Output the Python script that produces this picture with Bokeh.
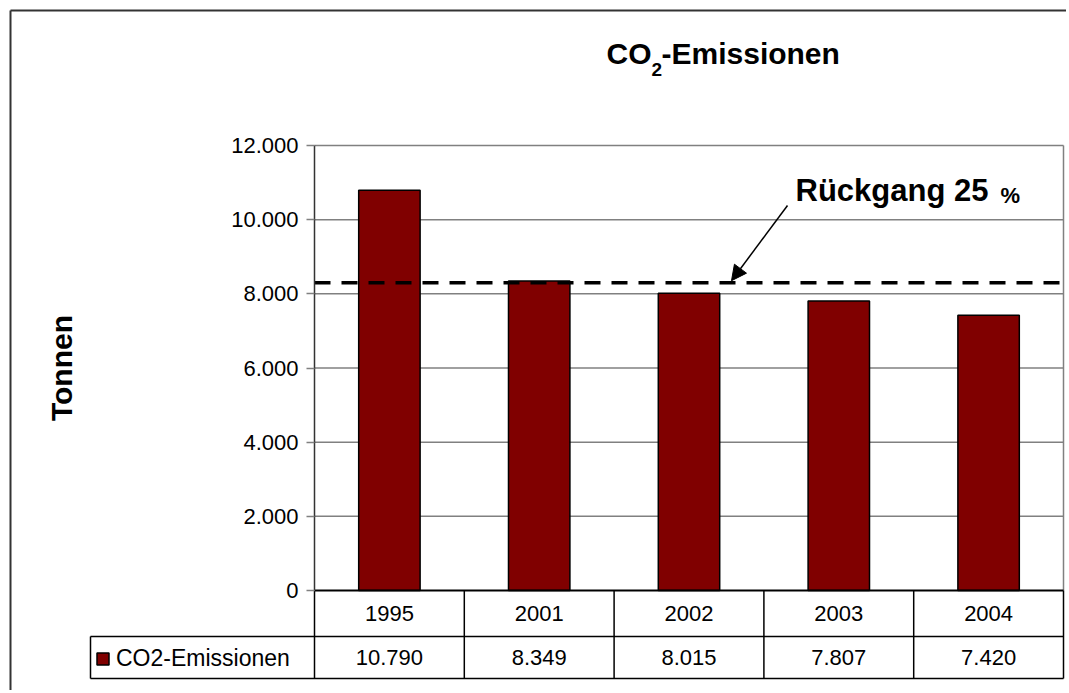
from bokeh.plotting import figure
from bokeh.models import (Range1d, FixedTicker, Label, Arrow, NormalHead, Grid,
                          Legend, LegendItem, ColumnDataSource, LinearAxis)
from bokeh.core.properties import value
from bokeh.embed import file_html
from bokeh.resources import INLINE

# ---------------- data ----------------
years = ["1995", "2001", "2002", "2003", "2004"]
emissions = [10790, 8349, 8015, 7807, 7420]
target_level = 8300          # dashed reference line ("Rückgang 25 %")
y_ticks = [0, 2000, 4000, 6000, 8000, 10000, 12000]
y_tick_labels = ["0", "2.000", "4.000", "6.000", "8.000", "10.000", "12.000"]
series_name = "CO2-Emissionen"
title_parts = ["CO", "2", "-Emissionen"]      # CO₂-Emissionen with subscript 2
y_label = "Tonnen"
annot_text = "Rückgang 25"
annot_pct = "%"
value_labels = [f"{v:,}".replace(",", ".") for v in emissions]

# ---------------- layout (pixels) ----------------
FONT = "Liberation Sans"
W, H = 1066, 690
PLOT_L, PLOT_R, PLOT_T, ZERO_Y = 314, 1063, 145, 590   # plot area in px
ROW1, ROW2 = 46, 42                                    # table row heights in px
CELL_L = 90                                            # legend cell left edge
n = len(years)
Y_MAX = y_ticks[-1]
XU = n / (PLOT_R - PLOT_L)          # x data units per px
U = Y_MAX / (ZERO_Y - PLOT_T)       # y data units per px


def px_x(sx):
    return (sx - PLOT_L) * XU


def px_y(sy):
    return (ZERO_Y - sy) * U


p = figure(width=W, height=H, output_backend="svg", toolbar_location=None,
           x_range=Range1d(px_x(0), px_x(W)), y_range=Range1d(px_y(H), px_y(0)),
           x_axis_location=None, y_axis_location=None, min_border=0)
p.center = [c for c in p.center if not isinstance(c, Grid)]
p.outline_line_color = None
p.background_fill_color = "white"
p.border_fill_color = "white"

# y axis drawn at x = 0 (the plot area's left edge)
ax = LinearAxis(fixed_location=0, bounds=(0, Y_MAX))
ax.ticker = FixedTicker(ticks=y_ticks)
ax.major_label_overrides = dict(zip(y_ticks, y_tick_labels))
ax.minor_tick_line_color = None
ax.major_tick_in = 0
ax.major_tick_out = 8
ax.major_tick_line_color = "#808080"
ax.major_tick_line_width = 1.5
ax.axis_line_color = "#333333"
ax.axis_line_width = 1.5
ax.major_label_text_font = FONT
ax.major_label_text_font_size = "22px"
ax.major_label_text_color = "black"
ax.major_label_standoff = 8
ax.axis_label = y_label
ax.axis_label_text_font = FONT
ax.axis_label_text_font_size = "30px"
ax.axis_label_text_font_style = "bold"
ax.axis_label_text_color = "black"
ax.axis_label_standoff = 150
p.add_layout(ax, "left")

# horizontal gridlines and plot-area right border
grid_levels = y_ticks[1:]
p.segment(x0=[0] * len(grid_levels), x1=[n] * len(grid_levels), y0=grid_levels,
          y1=grid_levels, line_color="#808080", line_width=1.5)
p.segment(x0=[n], x1=[n], y0=[0], y1=[Y_MAX], line_color="#808080", line_width=1.5)

src = ColumnDataSource(dict(x=[i + 0.5 for i in range(n)], top=emissions,
                            year=years, label=value_labels))
bars = p.vbar(x="x", top="top", bottom=0, width=0.41, source=src,
              fill_color="#800000", line_color="black", line_width=1.5)

# data table below the plot
r1, r2 = -ROW1 * U, -(ROW1 + ROW2) * U
cell_l = px_x(CELL_L)
p.segment(x0=[0, cell_l, cell_l], x1=[n, n, n], y0=[0, r1, r2], y1=[0, r1, r2],
          line_color="black", line_width=[2, 1.5, 1.5])
vx = list(range(0, n + 1))
p.segment(x0=vx, x1=vx, y0=[r2] * len(vx), y1=[0] * len(vx),
          line_color="black", line_width=1.5)
p.segment(x0=[cell_l], x1=[cell_l], y0=[r2], y1=[r1], line_color="black", line_width=1.5)
p.text(x="x", y=r1 / 2, text="year", source=src, text_align="center",
       text_baseline="middle", text_font=value(FONT), text_font_size="22px",
       text_color="black")
p.text(x="x", y=(r1 + r2) / 2, text="label", source=src, text_align="center",
       text_baseline="middle", text_font=value(FONT), text_font_size="22px",
       text_color="black")

legend = Legend(items=[LegendItem(label=series_name, renderers=[bars])],
                location=(CELL_L + 5, H - (ZERO_Y + ROW1 + ROW2) + 6),
                orientation="vertical",
                padding=7, margin=0, spacing=0, glyph_width=15, glyph_height=15,
                label_standoff=6, label_width=150, label_height=28,
                border_line_color=None, background_fill_alpha=0.0,
                label_text_font=FONT, label_text_font_size="23px",
                label_text_color="black")
p.add_layout(legend)

# reference line + annotation
p.segment(x0=[0], x1=[n], y0=[target_level], y1=[target_level], line_color="black",
          line_width=3.5, line_dash="16 11")
p.add_layout(Arrow(x_start=px_x(787), y_start=px_y(205), x_end=px_x(731),
                   y_end=target_level + 2 * U,
                   line_color="black", line_width=1.5,
                   end=NormalHead(size=15, fill_color="black", line_color="black")))
p.add_layout(Label(x=px_x(795), y=px_y(207), text=annot_text, text_font=FONT,
                   text_font_size="31px", text_font_style="bold", text_color="black"))
p.add_layout(Label(x=px_x(1000), y=px_y(207), text=annot_pct, text_font=FONT,
                   text_font_size="22px", text_font_style="bold", text_color="black"))

# chart title: "CO" + subscript "2" + "-Emissionen"
p.add_layout(Label(x=px_x(606), y=px_y(69), text=title_parts[0], text_font=FONT,
                   text_font_size="30px", text_font_style="bold", text_color="black"))
p.add_layout(Label(x=px_x(651), y=px_y(75), text=title_parts[1], text_font=FONT,
                   text_font_size="19px", text_font_style="bold", text_color="black"))
p.add_layout(Label(x=px_x(661), y=px_y(69), text=title_parts[2], text_font=FONT,
                   text_font_size="30px", text_font_style="bold", text_color="black"))

# outer chart border (left and top edges)
p.segment(x0=[px_x(10), px_x(10)], x1=[px_x(10), px_x(W)],
          y0=[px_y(H), px_y(10)], y1=[px_y(10), px_y(10)],
          line_color="#333333", line_width=2)

open("out.html", "w").write(file_html(p, INLINE))
